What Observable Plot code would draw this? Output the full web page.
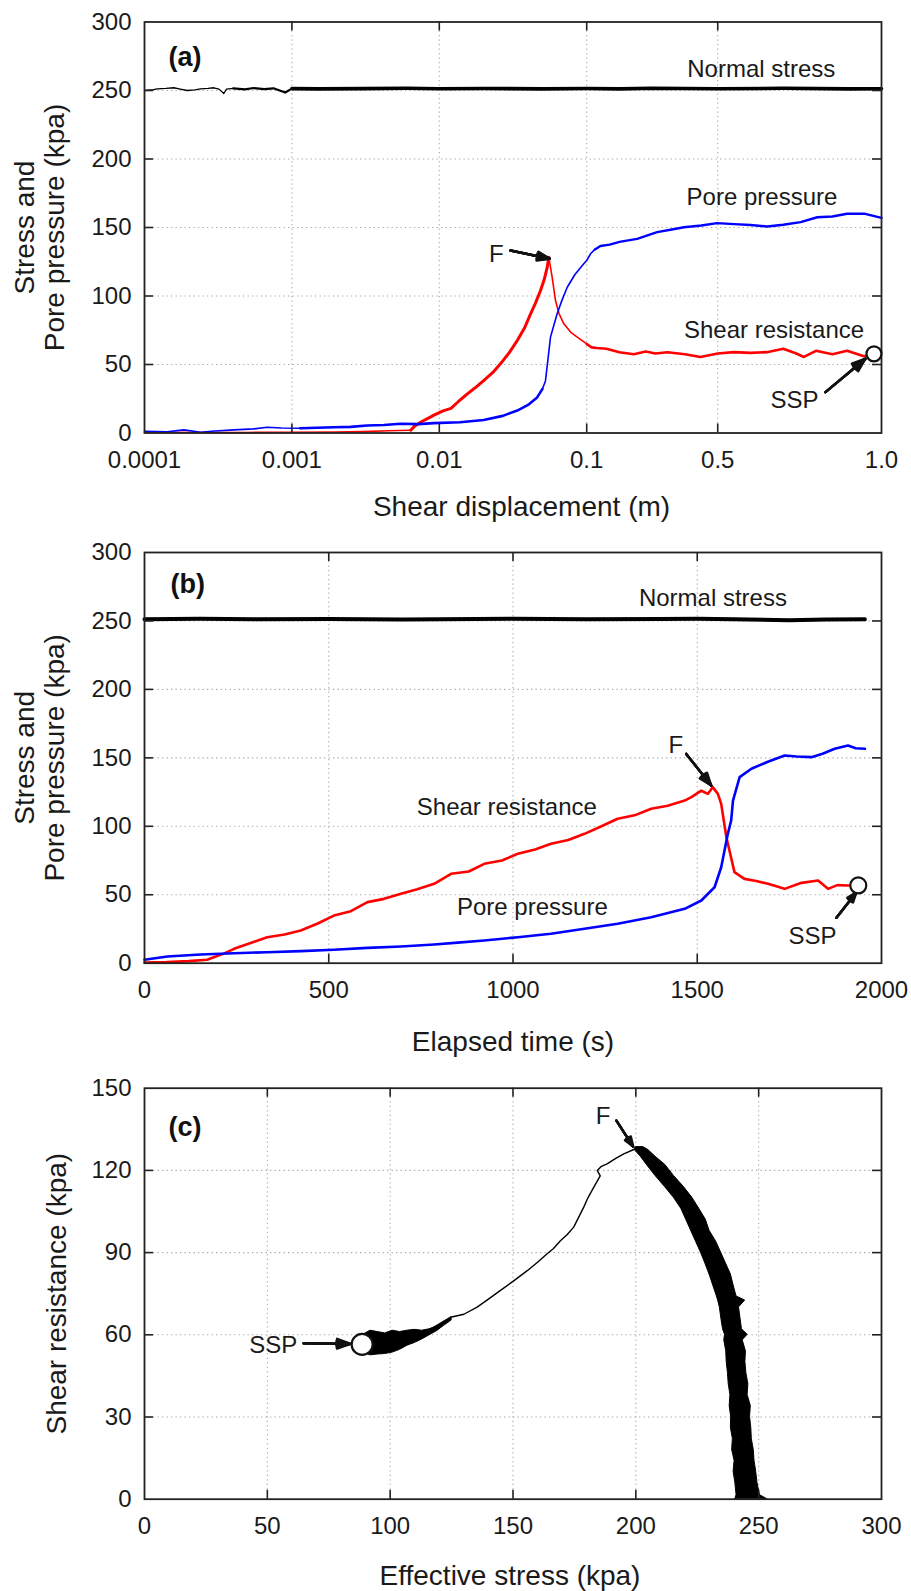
<!DOCTYPE html>
<html><head><meta charset="utf-8">
<script src="https://cdn.jsdelivr.net/npm/d3@7"></script>
<script src="https://cdn.jsdelivr.net/npm/@observablehq/plot@0.6"></script>
<style>
  html,body{margin:0;padding:0;background:#fff;}
  #root svg{display:block;}
</style>
</head><body><div id="root"></div>
<script>
const FONT = "'Liberation Sans', Arial, Helvetica, sans-serif";

// ---------------- Panel (a): stress vs shear displacement (m) ----------------
const aTickValues = [0.0001, 0.001, 0.01, 0.1, 0.5, 1.0];
const aTickLabels = ["0.0001", "0.001", "0.01", "0.1", "0.5", "1.0"];
const aInnerX = [0.001, 0.01, 0.1, 0.5];
const stressTicks = [0, 50, 100, 150, 200, 250, 300];
const stressInner = [50, 100, 150, 200, 250];

const aNormalEarly = [[0.0001,250],[0.000115,250.6],[0.000122,251.2],[0.00014,251.5],[0.000158,252],[0.000175,251],[0.000195,250],[0.00022,250.5],[0.00024,251.2],[0.00027,251.5],[0.000295,252],[0.00032,251],[0.000345,247.8],[0.00036,251],[0.0004,251.6]];
const aNormalMid = [[0.0004,251.6],[0.00048,250.8],[0.00055,251.8],[0.00065,251],[0.00075,251.6],[0.0009,248.5],[0.001,251.4]];
const aNormalLate = [[0.001,251.4],[0.0015,251.2],[0.003,251.4],[0.006,251.6],[0.01,251.3],[0.02,251.5],[0.05,251.2],[0.1,251.5],[0.2,251.2],[0.3,251.6],[0.5,251.3],[0.7,251.6],[0.9,251.2],[1.0,251.3]];

const aShearBase = [[0.0001,0.5],[0.0005,0.4],[0.001,0.6],[0.002,0.7],[0.003,1.0],[0.0045,1.6],[0.0064,2.0]];
const aShearRise = [[0.0064,2.0],[0.0068,5],[0.0075,8],[0.0085,11],[0.0092,13],[0.0105,16],[0.012,18],[0.0135,23],[0.0155,28.6],[0.0175,33],[0.02,38.3],[0.023,44],[0.026,50.5],[0.03,59],[0.0338,67.5],[0.038,77],[0.0416,87],[0.045,95],[0.0486,104],[0.0515,112],[0.054,121],[0.0553,128.3]];
const aShearDrop = [[0.0553,128.3],[0.0583,113.7],[0.0614,96.7],[0.065,87],[0.07,79.7],[0.078,73.5],[0.0863,70],[0.1,65]];
const aShearSteady = [[0.1,65],[0.115,62.5],[0.13,62],[0.16,61.5],[0.2,59],[0.244,57.5],[0.28,59.5],[0.31,58],[0.346,59],[0.4,57.5],[0.447,55.5],[0.5,58],[0.549,59],[0.6,58.5],[0.65,59],[0.7,61.5],[0.74,58],[0.763,55.5],[0.8,60],[0.85,57.5],[0.895,60],[0.946,56],[0.977,57.8]];

const aPoreEarly = [[0.0001,1.3],[0.000143,0.9],[0.000185,2.3],[0.00024,0.6],[0.0003,1.5],[0.000404,2.3],[0.00055,3.0],[0.00068,4.2],[0.00085,3.6],[0.00114,3.5]];
const aPoreMid = [[0.00114,3.5],[0.00192,4.2],[0.0025,4.5],[0.00324,5.5],[0.0042,5.8],[0.00546,6.7],[0.0072,6.5],[0.0092,7.2],[0.0138,7.9],[0.02,9.5],[0.027,12.5],[0.0338,16.4],[0.04,20.5],[0.0461,26],[0.05,32]];
const aPoreJump = [[0.05,32],[0.0525,38],[0.0545,53],[0.0568,70],[0.06,79],[0.063,87],[0.068,97],[0.0738,106.4],[0.083,115.5],[0.0955,123.5],[0.1,125.9],[0.1117,130.8],[0.125,134]];
const aPoreSteady = [[0.125,134],[0.142,136.5],[0.17,137.5],[0.2,139.5],[0.254,141.7],[0.315,146.6],[0.36,148.5],[0.397,150.2],[0.45,151.5],[0.498,153.2],[0.55,152.5],[0.6,151.8],[0.651,150.7],[0.7,152],[0.753,153.9],[0.804,157.5],[0.85,158],[0.895,160],[0.95,160],[1.0,157]];

const aLabels = [
  {text:"Normal stress", x:0.407, y:260.2, anchor:"start"},
  {text:"Pore pressure", x:0.405, y:166.4, anchor:"start"},
  {text:"Shear resistance", x:0.397, y:69.2, anchor:"start"},
  {text:"F", x:0.0273, y:124.5, anchor:"end"},
  {text:"SSP", x:0.808, y:18.6, anchor:"end"}
];
const aArrows = [
  {x1:0.0304, y1:133.2, x2:0.0562, y2:127.2},
  {x1:0.829, y1:29.8, x2:0.951, y2:54.2}
];
const aSSP = [[0.977, 57.8]];

// ---------------- Panel (b): stress vs elapsed time (s) ----------------
const bTicks = [0, 500, 1000, 1500, 2000];
const bInnerX = [500, 1000, 1500];

const bNormal = [[0,251.3],[150,251.6],[300,251.2],[500,251.4],[700,251],[900,251.5],[1000,251.6],[1200,251.2],[1400,251.5],[1500,251.6],[1600,251.3],[1750,250.5],[1850,251],[1955,251.2]];
const bShear = [[0,0.5],[60,0.8],[120,1.5],[170,2.5],[188,4.4],[215,7],[243,10.5],[290,15],[333,19],[380,21],[424,23.9],[470,29],[514,34.8],[560,38],[605,44.6],[650,47],[696,50.7],[740,54],[786,58],[832,65.3],[880,67],[922,72.6],[970,75],[1013,79.9],[1060,83],[1103,87.2],[1150,90],[1194,94.5],[1240,100],[1284,105.5],[1330,108],[1375,112.8],[1420,115],[1466,118.8],[1484,121.3],[1511,126],[1529,123.7],[1542,128.6],[1556,123.7],[1565,116.4],[1579,92],[1601,66.5],[1628,61.6],[1660,60],[1692,58],[1737,54.3],[1783,58.7],[1828,60.4],[1855,54.3],[1880,57],[1909,56.8],[1937,56.8]];
const bPore = [[0,2.5],[62,4.9],[152,6.4],[243,7.3],[333,8],[424,8.8],[514,9.8],[605,11.2],[696,12.2],[786,13.7],[850,15],[922,16.6],[1013,19],[1103,21.5],[1194,25.1],[1284,28.8],[1375,33.6],[1466,39.7],[1511,45.8],[1547,55.5],[1565,70.1],[1583,94.5],[1592,104.2],[1597,118.8],[1615,135.9],[1647,142],[1690,147],[1737,151.7],[1770,151],[1810,150.5],[1840,153],[1873,156.6],[1909,159],[1930,157],[1955,156.6]];

const bLabels = [
  {text:"Normal stress", x:1341.6, y:260.6, anchor:"start"},
  {text:"Shear resistance", x:739, y:107.9, anchor:"start"},
  {text:"Pore pressure", x:848, y:35.4, anchor:"start"},
  {text:"F", x:1462, y:153.2, anchor:"end"},
  {text:"SSP", x:1877.7, y:13.7, anchor:"end"}
];
const bArrows = [
  {x1:1470, y1:152.9, x2:1538, y2:129.8},
  {x1:1877.7, y1:33.2, x2:1932, y2:51.9}
];
const bSSP = [[1937, 56.8]];

// ---------------- Panel (c): stress path ----------------
const cXTicks = [0, 50, 100, 150, 200, 250, 300];
const cXInner = [50, 100, 150, 200, 250];
const cYTicks = [0, 30, 60, 90, 120, 150];
const cYInner = [30, 60, 90, 120];

// pre-failure branch, drawn as the band it fills: [shear resistance, left effective stress, right effective stress]
const cBandPre = [[0,240.5,253.5],[1.5,241,250.5],[6,240.5,249.5],[10,239.8,249],[14,240.2,248.3],[18,239.2,248],[22,239.5,247.2],[26,238.7,247],[30,238.8,246.5],[34,238.2,246.8],[38,238.5,245.5],[42,237.8,245.8],[46,237.5,245],[50,237,244.6],[54,236.8,244.8],[58,236,243.5],[60,236.3,245.5],[62,235.5,243.2],[66,234.8,242.6],[70,234.2,242],[72.5,233.5,244.5],[74,233,241],[78,231.5,239.8],[82,230,238.7],[86,228.3,236.7],[90,226.5,234.7],[94,224.5,232.7],[98,222.5,230],[102,220.5,228.5],[106,218.5,225.8],[110,215.5,223],[114,211.8,219.5],[118,208,215.5],[122,204.5,212],[125,202,208],[127.5,199.5,205],[128.5,200,203]];
// post-failure branch (single trace)
const cPathPost = [[199.9,127.9],[195.1,126],[192,124.5],[188.3,122.4],[186,121.5],[184.3,120],[185.5,118],[182.9,113.9],[180.5,110],[178.8,106.6],[176.5,102.5],[174.7,99.3],[172,96.5],[169.3,94.3],[166.5,91.5],[163.9,89.6],[160,86.5],[155.8,83.4],[150,79.5],[144.9,76.2],[140,73],[135.4,70.1],[130,67.5],[124.6,66.4],[117.8,62.8],[111,59.1]];
// steady-state cluster: [effective stress, low shear, high shear]
const cBandSteady = [[89,53.5,60],[92,52.5,61.5],[95,52.8,61],[98,53,60.5],[101,53.5,61.5],[104,54.5,61],[107,56,61.5],[110,57,61.8],[113,58.3,61.5],[116,59.8,62],[119,61.3,63],[122,63.3,64.8],[125,65.2,66.4]];

const cLabels = [
  {text:"F", x:189.7, y:137.1, anchor:"end"},
  {text:"SSP", x:62.2, y:53.3, anchor:"end"}
];
const cArrows = [
  {x1:192.1, y1:138.2, x2:198.9, y2:128.7},
  {x1:64.8, y1:56.9, x2:83.9, y2:56.7}
];
const cSSP = [[88.6, 56.5]];

// ---------------- helpers ----------------
const W = 911, ML = 144, MR = 30;
const toU = d => d <= 0.1 ? Math.log10(d) + 4 : 3 + (d - 0.1) / 0.45;

function arrowMarks(data, fx) {
  // stacked wings so the head reads as a filled triangle
  return [40, 28, 16, 6].map(a => Plot.arrow(data, {
    x1: d => fx(d.x1), y1: "y1", x2: d => fx(d.x2), y2: d => d.y2,
    stroke: "#111", strokeWidth: 2.4, headLength: 9, headAngle: a
  }));
}

function panel(cfg) {
  const plotW = W - ML - MR;
  const plotH = cfg.height - cfg.marginTop - cfg.marginBottom;
  const tickLen = 9;
  const fx = cfg.fx || (d => d);
  const gridOpt = {stroke: "#a8a8a8", strokeOpacity: 1, strokeDasharray: "1.3,3.2", strokeWidth: 1.1};
  const tickOpt = {stroke: "#222", strokeWidth: 1.6};
  const lines = cfg.lines.map(l => Plot.line(l.data, {x: d => fx(d[0]), y: d => d[1], stroke: l.color, strokeWidth: l.width, strokeLinejoin: "round", strokeLinecap: "round"}));
  const labelOpt = {x: d => fx(d.x), y: "y", text: "text", lineAnchor: "bottom", fontSize: 24, fill: "#1a1a1a"};
  return Plot.plot({
    width: W, height: cfg.height,
    marginLeft: ML, marginRight: MR, marginTop: cfg.marginTop, marginBottom: cfg.marginBottom,
    style: {fontFamily: FONT, fontSize: "24px", background: "#fff", color: "#1a1a1a"},
    x: {type: "linear", domain: cfg.xDomain},
    y: {type: "linear", domain: cfg.yDomain},
    marks: [
      Plot.gridX(cfg.xInner.map(fx), gridOpt),
      Plot.gridY(cfg.yInner, gridOpt),
      ...(cfg.extra || []),
      ...lines,
      Plot.frame({stroke: "#222", strokeWidth: 1.8}),
      Plot.ruleY(cfg.yInner, {y: d => d, insetRight: plotW - tickLen, ...tickOpt}),
      Plot.ruleY(cfg.yInner, {y: d => d, insetLeft: plotW - tickLen, ...tickOpt}),
      Plot.ruleX(cfg.xInner.map(fx), {x: d => d, insetBottom: plotH - tickLen, ...tickOpt}),
      Plot.ruleX(cfg.xInner.map(fx), {x: d => d, insetTop: plotH - tickLen, ...tickOpt}),
      ...arrowMarks(cfg.arrows, fx),
      Plot.dot(cfg.ssp, {x: d => fx(d[0]), y: d => d[1], r: cfg.sspR, fill: "#fff", stroke: "#111", strokeWidth: 2.2}),
      Plot.text(cfg.labels.filter(d => d.anchor === "start"), {...labelOpt, textAnchor: "start"}),
      Plot.text(cfg.labels.filter(d => d.anchor === "end"), {...labelOpt, textAnchor: "end"}),
      Plot.text([cfg.tag], {text: d => d, frameAnchor: "top-left", textAnchor: "start", lineAnchor: "bottom", dx: cfg.tagDx, dy: cfg.tagDy, fontSize: 27, fontWeight: "bold", fill: "#111"}),
      Plot.axisX(cfg.xTicks.map(fx), {anchor: "bottom", tickSize: 0, tickPadding: 18, tickFormat: cfg.xFmt, label: null, fontSize: 24, fill: "#1a1a1a"}),
      Plot.axisY(cfg.yTicks, {anchor: "left", tickSize: 0, tickPadding: 13, tickFormat: d => String(d), label: null, fontSize: 24, fill: "#1a1a1a"}),
      Plot.text([cfg.xLabel], {text: d => d, frameAnchor: "bottom", textAnchor: "middle", lineAnchor: "bottom", dx: cfg.xLabelDx, dy: cfg.xLabelDy, fontSize: 28, fill: "#1a1a1a"}),
      Plot.text([cfg.yLabel], {text: d => d, frameAnchor: "left", textAnchor: "middle", lineAnchor: "middle", rotate: -90, dx: cfg.yLabelDx, lineHeight: 1.07, fontSize: 28, fill: "#1a1a1a"})
    ]
  });
}

const aFmt = new Map(aTickValues.map((v, i) => [toU(v), aTickLabels[i]]));

const root = document.getElementById("root");

root.appendChild(panel({
  height: 530, marginTop: 21.5, marginBottom: 97.5,
  fx: toU, xDomain: [0, 5], yDomain: [0, 300],
  xTicks: aTickValues, xInner: aInnerX, xFmt: d => aFmt.get(d),
  yTicks: stressTicks, yInner: stressInner,
  lines: [
    {data: aNormalEarly, color: "#000", width: 1.3},
    {data: aNormalMid, color: "#000", width: 2.2},
    {data: aNormalLate, color: "#000", width: 3.6},
    {data: aShearBase, color: "#ff0000", width: 1.6},
    {data: aShearRise, color: "#ff0000", width: 3.0},
    {data: aShearDrop, color: "#ff0000", width: 1.6},
    {data: aShearSteady, color: "#ff0000", width: 2.6},
    {data: aPoreEarly, color: "#0000ff", width: 1.6},
    {data: aPoreMid, color: "#0000ff", width: 2.6},
    {data: aPoreJump, color: "#0000ff", width: 1.6},
    {data: aPoreSteady, color: "#0000ff", width: 2.4}
  ],
  labels: aLabels, arrows: aArrows, ssp: aSSP, sspR: 7.5,
  tag: "(a)", tagDx: 24, tagDy: 43.5,
  xLabel: "Shear displacement (m)", xLabelDx: 8.5, xLabelDy: 82.5,
  yLabel: "Stress and\nPore pressure (kpa)", yLabelDx: -105
}));

root.appendChild(panel({
  height: 545, marginTop: 22, marginBottom: 112.3,
  xDomain: [0, 2000], yDomain: [0, 300],
  xTicks: bTicks, xInner: bInnerX, xFmt: d => String(d),
  yTicks: stressTicks, yInner: stressInner,
  lines: [
    {data: bNormal, color: "#000", width: 4},
    {data: bShear, color: "#ff0000", width: 2.6},
    {data: bPore, color: "#0000ff", width: 2.6}
  ],
  labels: bLabels, arrows: bArrows, ssp: bSSP, sspR: 8,
  tag: "(b)", tagDx: 26, tagDy: 40,
  xLabel: "Elapsed time (s)", xLabelDx: 0, xLabelDy: 87.3,
  yLabel: "Stress and\nPore pressure (kpa)", yLabelDx: -105
}));

root.appendChild(panel({
  height: 516, marginTop: 12.7, marginBottom: 92.3,
  xDomain: [0, 300], yDomain: [0, 150],
  xTicks: cXTicks, xInner: cXInner, xFmt: d => String(d),
  yTicks: cYTicks, yInner: cYInner,
  extra: [
    Plot.areaX(cBandPre, {y: d => d[0], x1: d => d[1], x2: d => d[2], fill: "#000", stroke: "#000", strokeWidth: 1, strokeLinejoin: "miter"}),
    Plot.areaY(cBandSteady, {x: d => d[0], y1: d => d[1], y2: d => d[2], fill: "#000", stroke: "#000", strokeWidth: 1})
  ],
  lines: [
    {data: cPathPost, color: "#000", width: 1.4}
  ],
  labels: cLabels, arrows: cArrows, ssp: cSSP, sspR: 10.5,
  tag: "(c)", tagDx: 24, tagDy: 47.3,
  xLabel: "Effective stress (kpa)", xLabelDx: -3, xLabelDy: 86,
  yLabel: "Shear resistance (kpa)", yLabelDx: -88
}));
</script>
</body></html>
